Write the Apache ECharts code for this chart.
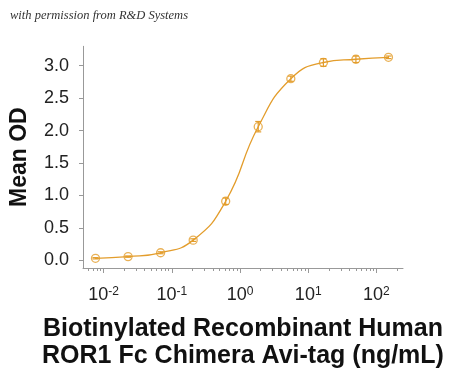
<!DOCTYPE html>
<html>
<head>
<meta charset="utf-8">
<script src="https://cdn.jsdelivr.net/npm/echarts@6/dist/echarts.min.js"></script>
<style>html,body{margin:0;padding:0;background:#fff}#c{width:450px;height:375px}</style>
</head>
<body>
<div id="c"></div>
<script>
// Concentrations (ng/mL), mean OD and error (SD)
var concentrations = [0.00762, 0.0229, 0.0686, 0.206, 0.617, 1.85, 5.56, 16.7, 50, 150];
var meanOD = [0.03, 0.056, 0.115, 0.31, 0.91, 2.06, 2.80, 3.05, 3.10, 3.13];
var errOD = [0.01, 0.01, 0.015, 0.02, 0.05, 0.08, 0.04, 0.06, 0.05, 0.02];
var xMajorTicks = [0.01, 0.1, 1, 10, 100];
var xMinorTicks = [0.006, 0.007, 0.008, 0.009,
  0.02, 0.03, 0.04, 0.05, 0.06, 0.07, 0.08, 0.09,
  0.2, 0.3, 0.4, 0.5, 0.6, 0.7, 0.8, 0.9,
  2, 3, 4, 5, 6, 7, 8, 9,
  20, 30, 40, 50, 60, 70, 80, 90, 200];
var yTicks = [0, 0.5, 1.0, 1.5, 2.0, 2.5, 3.0];
var xRange = [0.005, 245];
var yRange = [-0.12, 3.3];

var L = Math.log10;
var color = '#E39D2C';
var pts = concentrations.map(function (c, i) { return [L(c), meanOD[i]]; });
var errs = concentrations.map(function (c, i) { return [L(c), meanOD[i] - errOD[i], meanOD[i] + errOD[i]]; });

var chart = echarts.init(document.getElementById('c'), null, {renderer: 'canvas'});
chart.setOption({
  animation: false,
  backgroundColor: '#fff',
  graphic: [{
    type: 'text', left: 10, top: 9,
    style: {text: 'with permission from R&D Systems', font: 'italic 12.5px "Liberation Serif"', fill: '#333'}
  }],
  grid: {left: 80, right: 47, top: 46.3, bottom: 104.1},
  xAxis: [{
    type: 'value', min: L(xRange[0]), max: L(xRange[1]),
    position: 'bottom',
    name: 'Biotinylated Recombinant Human\nROR1 Fc Chimera Avi-tag (ng/mL)',
    nameLocation: 'middle', nameGap: 48,
    nameTextStyle: {fontFamily: 'Liberation Sans', fontWeight: 'bold', fontSize: 25, color: '#111', lineHeight: 27},
    splitLine: {show: false},
    axisLine: {show: true, onZero: false, lineStyle: {color: '#999', width: 1}},
    axisTick: {show: true, length: 5, lineStyle: {color: '#999'}, customValues: xMajorTicks.map(L)},
    axisLabel: {
      customValues: xMajorTicks.map(L), margin: 18,
      formatter: function (v) { return '{b|10}{s|' + Math.round(v) + '}'; },
      rich: {
        b: {fontFamily: 'Liberation Sans', fontSize: 18, color: '#222'},
        s: {fontFamily: 'Liberation Sans', fontSize: 12, color: '#222', verticalAlign: 'top', lineHeight: 12, padding: [0, 0, 10, 0]}
      }
    }
  }, {
    type: 'value', min: L(xRange[0]), max: L(xRange[1]),
    position: 'bottom', offset: 0,
    splitLine: {show: false},
    axisLine: {show: false, onZero: false},
    axisTick: {show: true, length: 3, lineStyle: {color: '#999'}, customValues: xMinorTicks.map(L)},
    axisLabel: {show: false}
  }],
  yAxis: {
    type: 'value', min: yRange[0], max: yRange[1],
    name: 'Mean OD', nameLocation: 'middle', nameGap: 52,
    nameTextStyle: {fontFamily: 'Liberation Sans', fontWeight: 'bold', fontSize: 23, color: '#111'},
    splitLine: {show: false},
    axisLine: {show: true, onZero: false, lineStyle: {color: '#999', width: 1}},
    axisTick: {show: true, length: 4, lineStyle: {color: '#999'}, customValues: yTicks},
    axisLabel: {
      customValues: yTicks, margin: 14,
      formatter: function (v) { return v.toFixed(1); },
      fontFamily: 'Liberation Sans', fontSize: 18, color: '#222'
    }
  },
  series: [{
    type: 'line', data: pts, smooth: 0.5, symbol: 'none',
    lineStyle: {color: color, width: 1.3}, z: 2
  }, {
    type: 'custom', data: errs, z: 3,
    renderItem: function (params, api) {
      var x = api.value(0);
      var lo = api.coord([x, api.value(1)]);
      var hi = api.coord([x, api.value(2)]);
      var w = 3;
      var st = {stroke: color, lineWidth: 1.2, fill: null};
      return {type: 'group', children: [
        {type: 'line', shape: {x1: lo[0], y1: lo[1], x2: hi[0], y2: hi[1]}, style: st},
        {type: 'line', shape: {x1: lo[0] - w, y1: lo[1], x2: lo[0] + w, y2: lo[1]}, style: st},
        {type: 'line', shape: {x1: hi[0] - w, y1: hi[1], x2: hi[0] + w, y2: hi[1]}, style: st}
      ]};
    }
  }, {
    type: 'scatter', data: pts, symbol: 'circle', symbolSize: 8, z: 4,
    itemStyle: {color: 'rgba(255,255,255,0)', borderColor: color, borderWidth: 1.3}
  }]
});
</script>
</body>
</html>
